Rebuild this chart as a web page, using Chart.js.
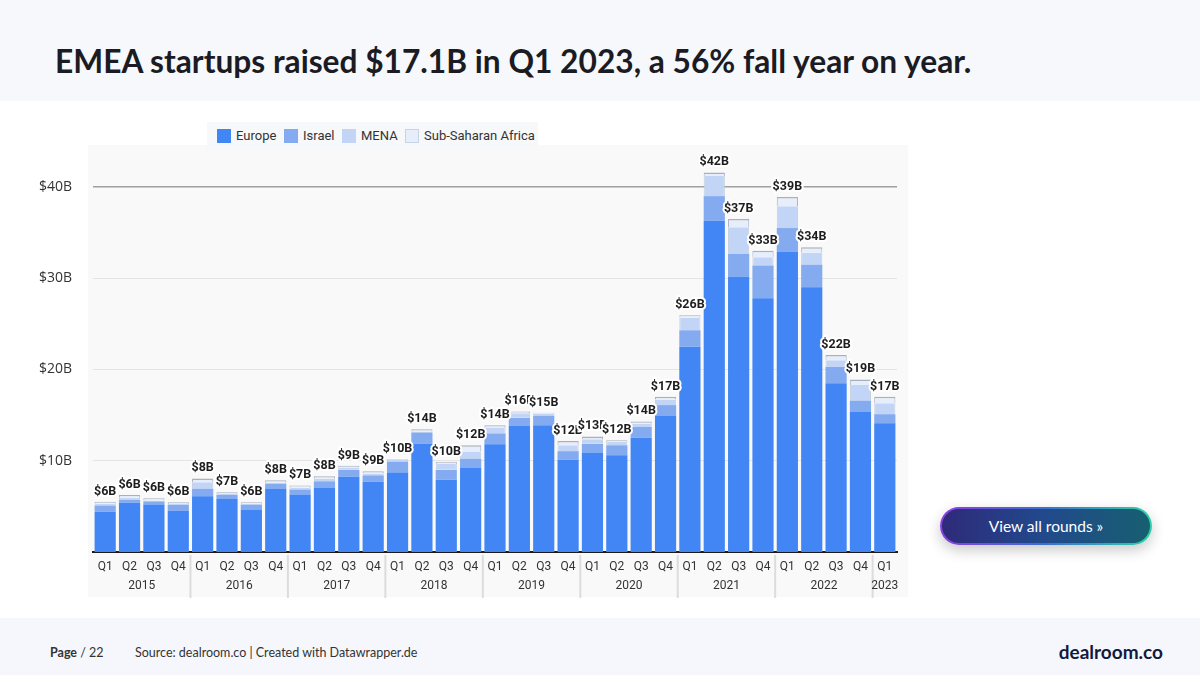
<!DOCTYPE html>
<html>
<head>
<meta charset="utf-8">
<script src="https://cdn.jsdelivr.net/npm/chart.js@4"></script>
<style>
  html, body { margin: 0; padding: 0; }
  body { width: 1200px; height: 675px; position: relative; overflow: hidden; background: #fff; font-family: Lato, "Open Sans", sans-serif; }
  .header { position: absolute; left: 0; top: 0; width: 1200px; height: 101px; background: #f6f8fc; }
  .header h1 { position: absolute; left: 55px; top: 42px; margin: 0; font: 700 31.7px Lato, sans-serif; color: #1b1b24; white-space: nowrap; }
  .plotbg { position: absolute; left: 88px; top: 145px; width: 820px; height: 452px; background: #f9f9f9; }
  .legend { position: absolute; left: 207px; top: 122px; width: 331px; height: 28px; background: #f7f8f9; font: 13px Roboto, sans-serif; color: #333; }
  .legend span.sw { position: absolute; top: 7px; width: 14px; height: 14px; box-sizing: border-box; }
  .legend span.tx { position: absolute; top: 6px; white-space: nowrap; }
  #wrap { position: absolute; left: 0; top: 100px; width: 920px; height: 510px; }
  .footer { position: absolute; left: 0; top: 618px; width: 1200px; height: 57px; background: #f6f7fc; font: 12.5px Lato, sans-serif; color: #333; }
  .footer .page { position: absolute; left: 50px; top: 27px; }
  .footer .src { position: absolute; left: 135px; top: 27px; }
  .footer .brand { position: absolute; right: 37px; top: 22px; font: 700 19px Lato, sans-serif; color: #121a3c; }
  .btn { position: absolute; left: 940px; top: 507px; width: 212px; height: 38px; border-radius: 20px; padding: 2px; box-sizing: border-box;
         background: linear-gradient(90deg, #8a3fe0, #3c6fd0 50%, #2fd0a8); box-shadow: 0 5px 14px rgba(0,0,0,0.22); }
  .btn div { width: 100%; height: 100%; border-radius: 18px; background: linear-gradient(90deg, #2e2a7a, #214a8c 50%, #175f70);
             color: #fff; font: 15.5px Lato, sans-serif; display: flex; align-items: center; justify-content: center; }
</style>
</head>
<body>
<div class="header"><h1>EMEA startups raised $17.1B in Q1 2023, a 56% fall year on year.</h1></div>
<div class="plotbg"></div>
<div class="legend" id="legend"></div>
<div id="wrap"><canvas id="chart"></canvas></div>
<div class="btn"><div>View all rounds »</div></div>
<div class="footer">
  <span class="page"><b>Page</b> / 22</span>
  <span class="src">Source: dealroom.co | Created with Datawrapper.de</span>
  <span class="brand">dealroom.co</span>
</div>

<script>
// quarters Q1 2015 .. Q1 2023
const quarters = ['Q1','Q2','Q3','Q4','Q1','Q2','Q3','Q4','Q1','Q2','Q3','Q4','Q1','Q2','Q3','Q4',
                  'Q1','Q2','Q3','Q4','Q1','Q2','Q3','Q4','Q1','Q2','Q3','Q4','Q1','Q2','Q3','Q4','Q1'];
const years = ['2015','2015','2015','2015','2016','2016','2016','2016','2017','2017','2017','2017',
               '2018','2018','2018','2018','2019','2019','2019','2019','2020','2020','2020','2020',
               '2021','2021','2021','2021','2022','2022','2022','2022','2023'];

// $B per region
const europe = [4.4,5.4,5.2,4.5,6.1,5.8,4.6,6.9,6.3,7.0,8.25,7.7,8.7,11.9,7.9,9.2,
                11.8,13.8,13.9,10.15,10.9,10.6,12.5,14.9,22.5,36.3,30.2,27.8,32.9,29.0,18.5,15.4,14.1];
const israel = [0.7,0.3,0.35,0.65,0.85,0.45,0.6,0.6,0.55,0.75,0.75,0.7,1.2,1.2,1.1,1.0,
                1.2,0.9,1.05,0.9,0.95,1.1,1.2,1.2,1.8,2.7,2.5,3.6,2.6,2.5,1.8,1.2,1.0];
const mena   = [0.2,0.25,0.1,0.1,0.7,0.1,0.1,0.1,0.2,0.3,0.25,0.2,0.2,0.1,0.65,0.8,
                0.6,0.5,0.2,0.65,0.5,0.35,0.35,0.6,1.4,2.2,2.9,0.9,2.4,1.3,0.7,1.7,1.2];
const ssa    = [0.2,0.3,0.25,0.2,0.4,0.2,0.15,0.25,0.25,0.25,0.2,0.25,0.1,0.25,0.25,0.7,
                0.3,0.2,0.1,0.45,0.3,0.2,0.25,0.3,0.25,0.4,0.9,0.7,1.0,0.6,0.6,0.6,0.7];
// labels shown above bars
const totalLabels = [6,6,6,6,8,7,6,8,7,8,9,9,10,14,10,12,14,16,15,12,13,12,14,17,26,42,37,33,39,34,22,19,17];

const yTicks = [10, 20, 30, 40];

const seriesNames  = ['Europe', 'Israel', 'MENA', 'Sub-Saharan Africa'];
const seriesColors = ['#4285f4', '#84aaef', '#c2d5f6', '#e7eefb'];

// html legend
const legendPos = [10, 77, 135, 198];
document.getElementById('legend').innerHTML = seriesNames.map((n, i) =>
  `<span class="sw" style="left:${legendPos[i]}px;background:${seriesColors[i]};${i === 3 ? 'border:1px solid #c9d3e6;' : ''}"></span>` +
  `<span class="tx" style="left:${legendPos[i] + 19}px">${n}</span>`).join('');

// year labels + separators under the quarter ticks
const yearAxis = {
  id: 'yearAxis',
  afterDraw(chart) {
    const { ctx, chartArea, scales: { x } } = chart;
    ctx.save();
    ctx.font = '12px Roboto, sans-serif';
    ctx.fillStyle = '#333';
    ctx.textAlign = 'center';
    ctx.textBaseline = 'middle';
    let start = 0;
    for (let i = 1; i <= years.length; i++) {
      if (i === years.length || years[i] !== years[start]) {
        const cx = (x.getPixelForValue(start) + x.getPixelForValue(i - 1)) / 2;
        ctx.fillText(years[start], cx, chartArea.bottom + 34);
        if (i < years.length) {
          const sx = (x.getPixelForValue(i - 1) + x.getPixelForValue(i)) / 2;
          ctx.strokeStyle = '#dcdcdc';
          ctx.lineWidth = 2;
          ctx.beginPath();
          ctx.moveTo(sx, chartArea.bottom + 3);
          ctx.lineTo(sx, chartArea.bottom + 46);
          ctx.stroke();
        }
        start = i;
      }
    }
    ctx.restore();
  }
};

// totals above bars
const totals = {
  id: 'totals',
  afterDatasetsDraw(chart) {
    const { ctx, scales: { x, y } } = chart;
    ctx.save();
    ctx.font = 'bold 12.5px Roboto, sans-serif';
    ctx.textAlign = 'center';
    ctx.textBaseline = 'bottom';
    ctx.lineJoin = 'round';
    totalLabels.forEach((t, i) => {
      const sum = europe[i] + israel[i] + mena[i] + ssa[i];
      const px = x.getPixelForValue(i), py = y.getPixelForValue(sum) - 4;
      const s = '$' + t + 'B';
      ctx.strokeStyle = '#fff';
      ctx.lineWidth = 4;
      ctx.strokeText(s, px, py);
      ctx.fillStyle = '#1d1d1d';
      ctx.fillText(s, px, py);
    });
    ctx.restore();
  }
};

const dsCommon = { barPercentage: 0.87, categoryPercentage: 1.0, borderSkipped: 'start' };

new Chart(document.getElementById('chart'), {
  type: 'bar',
  data: {
    labels: quarters,
    datasets: [
      { ...dsCommon, label: seriesNames[0], data: europe, backgroundColor: seriesColors[0], borderWidth: 0 },
      { ...dsCommon, label: seriesNames[1], data: israel, backgroundColor: seriesColors[1], borderWidth: 0 },
      { ...dsCommon, label: seriesNames[2], data: mena, backgroundColor: seriesColors[2],
        borderColor: '#c6cedb', borderWidth: { left: 1, right: 1 } },
      { ...dsCommon, label: seriesNames[3], data: ssa, backgroundColor: seriesColors[3],
        borderColor: '#a9b0bd', borderWidth: { top: 1.5, left: 1, right: 1 } }
    ]
  },
  options: {
    responsive: true,
    maintainAspectRatio: false,
    animation: false,
    layout: { padding: { top: 45, right: 23, left: 0, bottom: 0 } },
    plugins: { legend: { display: false }, tooltip: { enabled: false } },
    scales: {
      x: {
        stacked: true,
        grid: { display: false },
        border: { display: true, color: '#1a1a1a', width: 2 },
        ticks: { color: '#333', font: { family: 'Roboto', size: 12 }, padding: 0, maxRotation: 0, autoSkip: false },
        afterFit: s => { s.height = 58; }
      },
      y: {
        stacked: true,
        min: 0,
        max: 44.6,
        afterBuildTicks: s => { s.ticks = yTicks.map(v => ({ value: v })); },
        afterFit: s => { s.width = 93; },
        border: { display: false },
        grid: {
          drawTicks: false,
          color: c => c.tick && c.tick.value === 40 ? '#a0a0a0' : '#e4e4e4',
          lineWidth: c => c.tick && c.tick.value === 40 ? 1.5 : 1
        },
        ticks: {
          padding: 21,
          color: '#333',
          font: { family: 'Open Sans', size: 14 },
          callback: v => '$' + v + 'B'
        }
      }
    }
  },
  plugins: [yearAxis, totals]
});
</script>
</body>
</html>
